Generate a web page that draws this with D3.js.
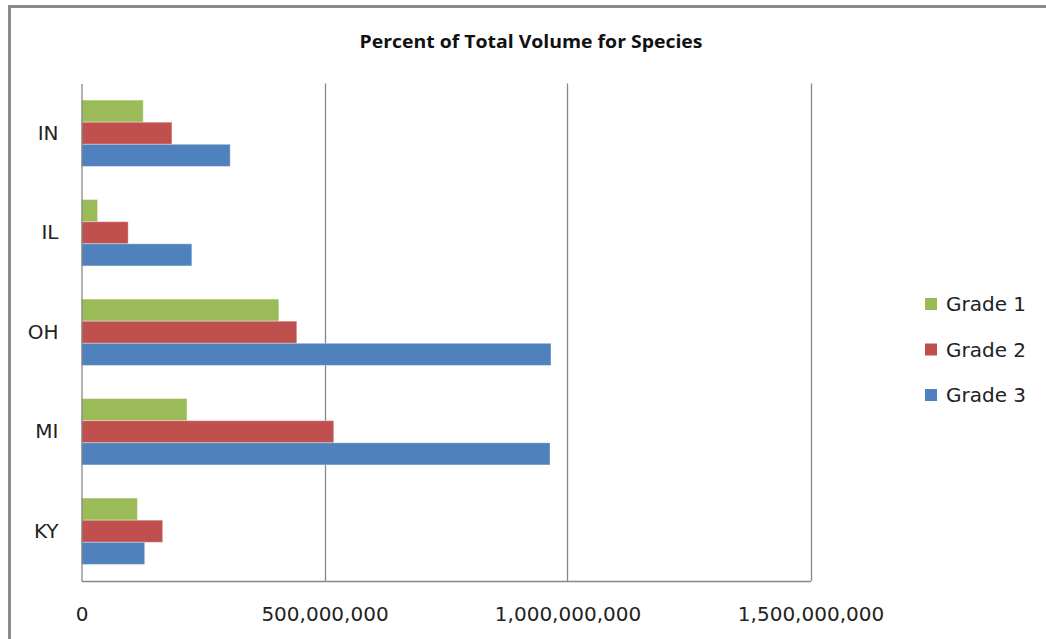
<!DOCTYPE html>
<html>
<head>
<meta charset="utf-8">
<script src="https://cdn.jsdelivr.net/npm/d3@7"></script>
<style>
  html, body { margin: 0; padding: 0; background: #fff; }
  svg { display: block; }
</style>
</head>
<body>
<svg id="chart" width="1046" height="639"></svg>
<script>
// States, top to bottom
const categories = ["IN", "IL", "OH", "MI", "KY"];
const seriesNames = ["Grade 1", "Grade 2", "Grade 3"];
const seriesColors = ["#9BBB59", "#C0504D", "#4F81BD"];
// Volume per grade, in the same order as categories
const grade1 = [127000000, 33000000, 406000000, 217000000, 115000000];
const grade2 = [186000000, 96000000, 443000000, 519000000, 167000000];
const grade3 = [306000000, 227000000, 966000000, 964000000, 130000000];
const xTicks = [0, 500000000, 1000000000, 1500000000];
const chartTitle = "Percent of Total Volume for Species";

const values = [grade1, grade2, grade3];
const rows = categories.map((c, i) => ({
  cat: c,
  vals: seriesNames.map((s, k) => ({ key: s, k, v: values[k][i] }))
}));

const svg = d3.select("#chart");
const font = "'DejaVu Sans', sans-serif";

// Outer chart frame (left and top edges)
svg.append("path")
  .attr("d", "M9.5,639 L9.5,6.5 L1046,6.5")
  .attr("fill", "none")
  .attr("stroke", "#8a8a8a")
  .attr("stroke-width", 3);

const plot = { left: 81.5, right: 810.5, top: 83.5, bottom: 581 };

const x = d3.scaleLinear().domain([0, 1500000000]).range([plot.left, plot.right]);
const y = d3.scaleBand().domain(categories).range([plot.top, plot.bottom])
  .paddingInner(1 / 3).paddingOuter(1 / 6);
const ySub = d3.scaleBand().domain(seriesNames).range([0, y.bandwidth()]);

// Vertical gridlines
svg.append("g")
  .selectAll("line")
  .data(xTicks.slice(1))
  .join("line")
  .attr("x1", d => Math.round(x(d)) + 0.5)
  .attr("x2", d => Math.round(x(d)) + 0.5)
  .attr("y1", plot.top)
  .attr("y2", plot.bottom)
  .attr("stroke", "#878787")
  .attr("stroke-width", 1.3);

// Bars
const groups = svg.append("g")
  .selectAll("g")
  .data(rows)
  .join("g")
  .attr("transform", d => `translate(0,${y(d.cat)})`);

groups.selectAll("rect")
  .data(d => d.vals)
  .join("rect")
  .attr("x", x(0))
  .attr("y", d => ySub(d.key))
  .attr("width", d => x(d.v) - x(0))
  .attr("height", ySub.bandwidth())
  .attr("fill", d => seriesColors[d.k])
  .attr("stroke", "rgba(255,255,255,0.35)")
  .attr("stroke-width", 1);

// Axes
const xAxis = d3.axisBottom(x).tickValues(xTicks).tickSize(0)
  .tickFormat(d3.format(","));
const gx = svg.append("g")
  .attr("transform", `translate(0,${plot.bottom})`)
  .call(xAxis);
gx.select(".domain").attr("stroke", "#878787").attr("stroke-width", 1.3);
gx.selectAll("text")
  .attr("dy", null)
  .attr("y", 40)
  .attr("font-family", font)
  .attr("font-size", 20)
  .attr("fill", "#222");

const yAxis = d3.axisLeft(y).tickSize(0).tickPadding(23);
const gy = svg.append("g")
  .attr("transform", `translate(${plot.left},0)`)
  .call(yAxis);
gy.select(".domain").attr("stroke", "#878787").attr("stroke-width", 1.3);
gy.selectAll("text")
  .attr("font-family", font)
  .attr("font-size", 20)
  .attr("fill", "#222");

// Title
svg.append("text")
  .attr("x", 531)
  .attr("y", 48)
  .attr("text-anchor", "middle")
  .attr("font-family", "'Open Sans', sans-serif")
  .attr("font-weight", "bold")
  .attr("font-size", 18)
  .attr("textLength", 343)
  .attr("lengthAdjust", "spacingAndGlyphs")
  .attr("fill", "#111")
  .text(chartTitle);

// Legend
const legend = svg.append("g");
const legendRows = legend.selectAll("g")
  .data(seriesNames)
  .join("g")
  .attr("transform", (d, i) => `translate(925,${304 + i * 45.5})`);
legendRows.append("rect")
  .attr("x", 0).attr("y", -6)
  .attr("width", 12).attr("height", 12)
  .attr("fill", (d, i) => seriesColors[i]);
legendRows.append("text")
  .attr("x", 21)
  .attr("y", 7)
  .attr("font-family", font)
  .attr("font-size", 20)
  .attr("fill", "#222")
  .text(d => d);
</script>
</body>
</html>
